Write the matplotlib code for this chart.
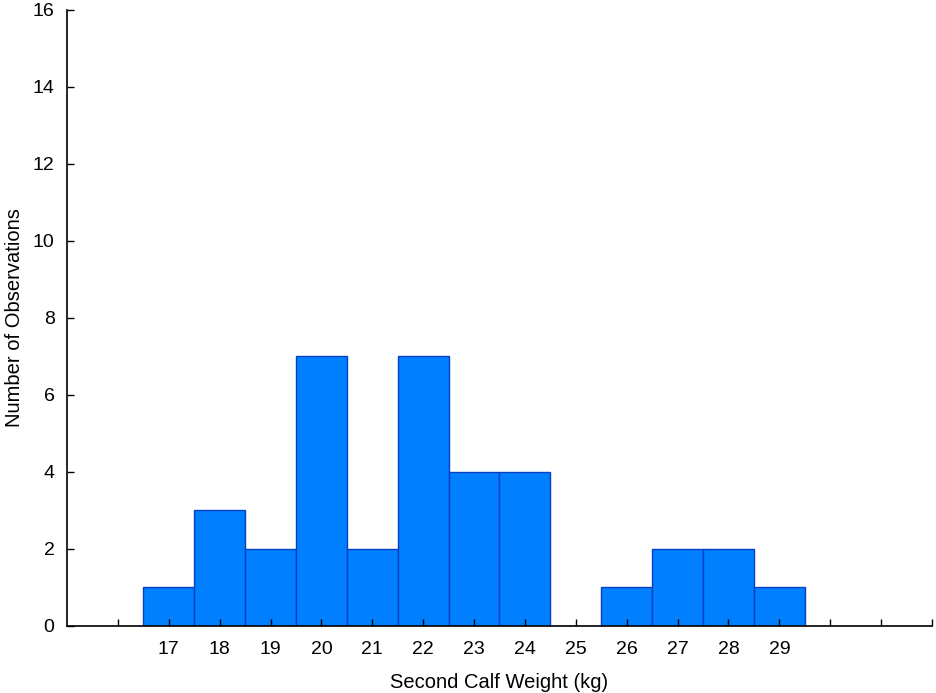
import matplotlib
matplotlib.use("Agg")
import matplotlib.pyplot as plt

plt.rcParams['font.family'] = ['Liberation Sans', 'DejaVu Sans']

weights = [17, 18, 19, 20, 21, 22, 23, 24, 25, 26, 27, 28, 29]
counts = [1, 3, 2, 7, 2, 7, 4, 4, 0, 1, 2, 2, 1]
x_ticks = list(range(16, 33))
x_labels = [str(t) if 17 <= t <= 29 else '' for t in x_ticks]
y_ticks = list(range(0, 17, 2))

fig = plt.figure(figsize=(9.36, 6.93), dpi=100)
ax = fig.add_axes([0.0716, 0.0967, 0.9241, 0.889])
ax.bar(weights, counts, width=1.0, color='#007FFF', edgecolor='#0A3FC4', linewidth=1.0)
ax.set_xlim(15, 32)
ax.set_ylim(0, 16)
ax.set_xticks(x_ticks)
ax.set_xticklabels(x_labels)
ax.set_yticks(y_ticks)
ax.tick_params(direction='in', length=5, width=1, labelsize=14)
ax.tick_params(axis='x', pad=11)
ax.tick_params(axis='y', pad=9)
ax.spines['top'].set_visible(False)
ax.spines['right'].set_visible(False)
ax.spines['left'].set_linewidth(1.2)
ax.spines['bottom'].set_linewidth(1.2)
ax.set_xlabel('Second Calf Weight (kg)', fontsize=14.5, labelpad=10.5)
ax.set_ylabel('Number of Observations', fontsize=14.5, labelpad=6)
fig.savefig('out.png', dpi=100)
